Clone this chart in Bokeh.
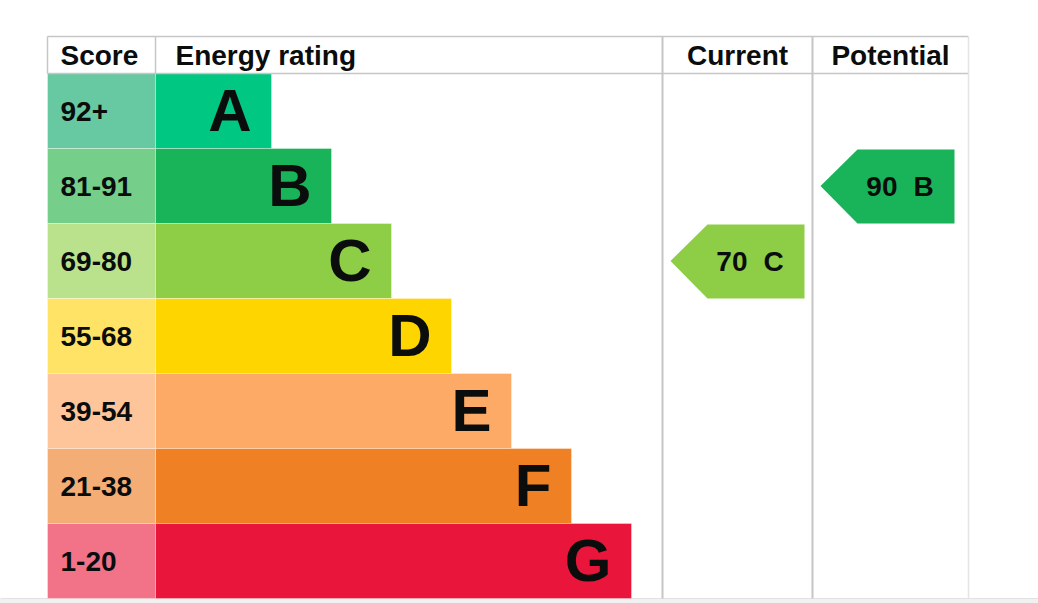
from bokeh.plotting import figure
from bokeh.models import Range1d, ColumnDataSource
from bokeh.core.properties import value
from bokeh.embed import file_html
from bokeh.resources import INLINE

# ---- data ----
bands = ["A", "B", "C", "D", "E", "F", "G"]
score_labels = ["92+", "81-91", "69-80", "55-68", "39-54", "21-38", "1-20"]
band_min = [92, 81, 69, 55, 39, 21, 1]
bar_colors = ["#00c781", "#19b459", "#8dce46", "#ffd500", "#fcaa65", "#ef8023", "#e9153b"]
score_colors = ["#66c9a1", "#76ce8b", "#bae18b", "#ffe366", "#fec59b", "#f4ad75", "#f27388"]
headers = ["Score", "Energy rating", "Current", "Potential"]
current_score = 70
potential_score = 90

# ---- layout ----
W, H, CH = 1038, 603, 598
X0, RX, CX, PX, XR = 47, 155, 662, 812, 968
TOP, HEAD_B, ROW_H = 36, 73, 75
BAR_MIN, BAR_STEP = 116, 60
FONT = "Liberation Sans"
INK = "#0b0c0c"
GRID = "#c6c6c6"


def base(mid, f):
    # y for text so that its cap height is centred on mid
    return mid + 0.358 * f - 0.40 * f + 2


p = figure(width=W, height=H, x_range=Range1d(0, W), y_range=Range1d(H, 0),
           x_axis_location=None, y_axis_location=None, toolbar_location=None,
           output_backend="svg", min_border=0)
p.outline_line_color = None
p.xgrid.visible = False
p.ygrid.visible = False
p.background_fill_color = "white"
p.border_fill_color = "white"

# page strip at the bottom
p.quad(left=[0], right=[W], top=[CH], bottom=[H], fill_color="#f1f1f1", line_color="#e2e2e2",
       line_width=1)

n = len(bands)
tops = [HEAD_B + ROW_H * i for i in range(n)]
bots = [min(t + ROW_H, CH) for t in tops]
mids = [t + ROW_H / 2 for t in tops]
bar_right = [RX + BAR_MIN + BAR_STEP * i for i in range(n)]

src = ColumnDataSource(dict(band=bands, score=score_labels, bar=bar_colors, sc=score_colors,
                            top=tops, bot=bots, mid=mids, right=bar_right,
                            sl=[X0] * n, sr=[RX] * n,
                            let_x=[r - 20 for r in bar_right],
                            let_y=[base(m, 60) for m in mids],
                            sc_x=[60] * n,
                            sc_y=[base(m, 28) for m in mids]))

p.quad(left="sl", right="sr", top="top", bottom="bot", fill_color="sc", line_color="white",
       line_alpha=0.35, line_width=1, source=src)
p.quad(left="sr", right="right", top="top", bottom="bot", fill_color="bar", line_color="white",
       line_alpha=0.35, line_width=1, source=src)
p.text(x="sc_x", y="sc_y", text="score", text_font=value(FONT), text_font_style="bold",
       text_font_size="28px", text_color=INK, text_align="left", text_baseline="alphabetic",
       source=src)
p.text(x="let_x", y="let_y", text="band", text_font=value(FONT), text_font_style="bold",
       text_font_size="60px", text_color=INK, text_align="right", text_baseline="alphabetic",
       source=src)

# grid lines
p.segment(x0=[X0, X0], y0=[TOP, HEAD_B], x1=[XR, XR], y1=[TOP, HEAD_B], line_color=GRID, line_width=1.5)
p.segment(x0=[X0, RX], y0=[TOP, TOP], x1=[X0, RX], y1=[HEAD_B, HEAD_B], line_color=GRID, line_width=1.5)
p.segment(x0=[CX, PX], y0=[TOP, TOP], x1=[CX, PX], y1=[CH, CH], line_color=GRID, line_width=2)
p.segment(x0=[XR], y0=[TOP], x1=[XR], y1=[CH], line_color="#e4e4e4", line_width=1.5)

# headers
hy = base((TOP + HEAD_B) / 2, 28)
p.text(x=[60, 175], y=[hy, hy], text=headers[:2], text_font=value(FONT), text_font_style="bold",
       text_font_size="28px", text_color=INK, text_align="left", text_baseline="alphabetic")
p.text(x=[(CX + PX) / 2, (PX + XR) / 2], y=[hy, hy], text=headers[2:], text_font=value(FONT),
       text_font_style="bold", text_font_size="28px", text_color=INK, text_align="center",
       text_baseline="alphabetic")


# arrows
def band_of(s):
    for i, m in enumerate(band_min):
        if s >= m:
            return i
    return n - 1


xs, ys, cols, nx, ny, nt, lx, lt = [], [], [], [], [], [], [], []
for colx, s in [(CX, current_score), (PX, potential_score)]:
    i = band_of(s)
    tip = colx + 8
    body = tip + 37
    right = tip + 134
    t, b, m = tops[i] + 1, bots[i], mids[i]
    xs.append([tip, body, right, right, body])
    ys.append([m, t, t, b, b])
    cols.append(bar_colors[i])
    nx.append(tip + 77)
    ny.append(base(m, 28))
    nt.append(str(s))
    lx.append(tip + 93)
    lt.append(bands[i])

p.patches(xs=xs, ys=ys, fill_color=cols, line_color=None)
p.text(x=nx, y=ny, text=nt, text_font=value(FONT), text_font_style="bold", text_font_size="28px",
       text_color=INK, text_align="right", text_baseline="alphabetic")
p.text(x=lx, y=ny, text=lt, text_font=value(FONT), text_font_style="bold", text_font_size="28px",
       text_color=INK, text_align="left", text_baseline="alphabetic")

open("out.html", "w").write(file_html(p, INLINE))
